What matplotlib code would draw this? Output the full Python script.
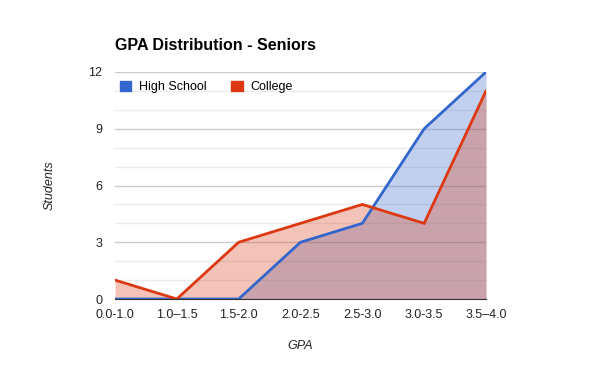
import numpy as np
import matplotlib.pyplot as plt
from matplotlib.patches import Patch

plt.rcParams['font.family'] = ['Liberation Sans', 'DejaVu Sans']

categories = ['0.0-1.0', '1.0\u20131.5', '1.5-2.0', '2.0-2.5', '2.5-3.0', '3.0-3.5', '3.5\u20134.0']
high_school = [0, 0, 0, 3, 4, 9, 12]
college = [1, 0, 3, 4, 5, 4, 11]

blue = '#3366cc'
red = '#dc3912'

fig = plt.figure(figsize=(6, 3.71), dpi=100)
ax = fig.add_axes([115 / 600, 72 / 371, 371 / 600, 227 / 371])

x = np.arange(len(categories))
ax.fill_between(x, 0, high_school, color=blue, alpha=0.3, linewidth=0)
ax.plot(x, high_school, color=blue, lw=2, solid_joinstyle='miter')
ax.fill_between(x, 0, college, color=red, alpha=0.3, linewidth=0)
ax.plot(x, college, color=red, lw=2, solid_joinstyle='miter')

ax.set_xlim(0, len(categories) - 1)
ax.set_ylim(0, 12)
ax.set_xticks(x)
ax.set_xticklabels(categories)
ax.set_yticks([0, 3, 6, 9, 12])
ax.set_yticks([1, 2, 4, 5, 7, 8, 10, 11], minor=True)
ax.grid(True, which='major', axis='y', color='#cccccc', lw=1)
ax.grid(True, which='minor', axis='y', color='#ebebeb', lw=1)
ax.set_axisbelow(True)
ax.tick_params(axis='both', which='both', length=0, labelsize=9, colors='#222222')
ax.tick_params(axis='x', pad=7)
ax.tick_params(axis='y', pad=9)
for side in ['top', 'right', 'left']:
    ax.spines[side].set_visible(False)
ax.spines['bottom'].set_color('#333333')
ax.spines['bottom'].set_zorder(5)

ax.set_ylabel('Students', style='italic', fontsize=9, color='#222222', labelpad=24)
ax.set_xlabel('GPA', style='italic', fontsize=9, color='#222222', labelpad=14)

fig.text(115 / 600, 1 - 45 / 371, 'GPA Distribution - Seniors', fontsize=11.5,
         fontweight='bold', va='center', ha='left')

handles = [Patch(facecolor=blue, edgecolor=blue), Patch(facecolor=red, edgecolor=red)]
ax.legend(handles, ['High School', 'College'], ncol=2, loc='upper left',
          bbox_to_anchor=(-0.01, 1.0), frameon=False, fontsize=9,
          handlelength=0.9, handleheight=0.9, handletextpad=0.6,
          columnspacing=2.0, borderaxespad=0.3)

fig.savefig('out.png', dpi=100)
